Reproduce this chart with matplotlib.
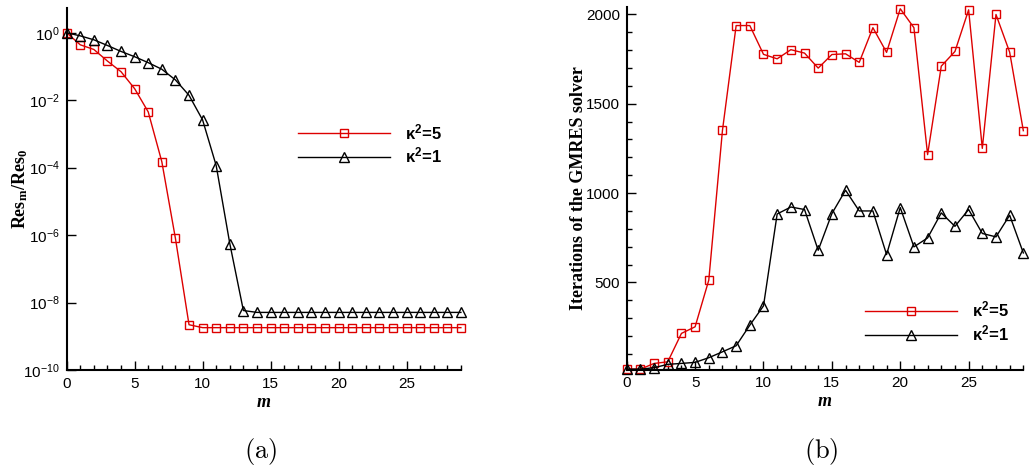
import numpy as np
import matplotlib
matplotlib.use("Agg")
import matplotlib.pyplot as plt
from matplotlib.ticker import FixedLocator, MultipleLocator, NullLocator, FuncFormatter

plt.rcParams["font.family"] = ["Liberation Sans", "DejaVu Sans"]
plt.rcParams["mathtext.default"] = "regular"

# data
m = np.arange(30)

res_k5 = [1.0, 0.44, 0.32, 0.145, 0.07, 0.022, 4.5e-3, 1.5e-4, 8e-7, 2.2e-9] + [1.8e-9] * 20
res_k1 = [1.0, 0.81, 0.62, 0.42, 0.28, 0.195, 0.13, 0.083, 0.04, 0.014,
          2.6e-3, 1.15e-4, 5.6e-7, 5.8e-9] + [5.1e-9] * 16

iter_k5 = [15, 15, 47, 56, 215, 252, 513, 1351, 1937, 1937,
           1776, 1751, 1802, 1783, 1699, 1775, 1779, 1731, 1925, 1787,
           2031, 1925, 1215, 1710, 1792, 2025, 1250, 1999, 1788, 1349]
iter_k1 = [15, 15, 23, 42, 47, 53, 79, 112, 146, 261,
           369, 883, 922, 908, 680, 885, 1016, 900, 900, 656,
           919, 699, 749, 889, 814, 908, 774, 755, 876, 665]

labels = ["κ$^2$=5", "κ$^2$=1"]
red = "#dd0000"

fig = plt.figure(figsize=(10.32, 4.70), dpi=100)
ax1 = fig.add_axes([0.0646, 0.2128, 0.382, 0.770])
ax2 = fig.add_axes([0.6073, 0.2138, 0.3843, 0.771])

style = dict(lw=1.0, mew=1.0, mfc="none", clip_on=False)


def dress(ax):
    for s in ["top", "right"]:
        ax.spines[s].set_visible(False)
    for s in ["left", "bottom"]:
        ax.spines[s].set_linewidth(1.5)
    ax.tick_params(which="major", direction="in", length=6.5, width=1.0,
                   labelsize=11, pad=5)
    ax.tick_params(which="minor", direction="in", length=3.6, width=1.0)
    ax.set_xlim(0, 29)
    ax.xaxis.set_major_locator(MultipleLocator(5))
    ax.xaxis.set_minor_locator(MultipleLocator(1))
    ax.set_xlabel("m", fontfamily="Liberation Serif", fontweight="bold",
                  fontstyle="italic", fontsize=13, labelpad=2)


legend_kw = dict(loc="center left", frameon=False, borderpad=0, borderaxespad=0,
                 handlelength=5.5, handletextpad=0.9, labelspacing=0.22,
                 prop={"weight": "bold", "size": 12})

# (a) residual history
ax1.plot(m, res_k5, color=red, marker="s", ms=6, label=labels[0], **style)
ax1.plot(m, res_k1, color="black", marker="^", ms=7, label=labels[1], **style)
ax1.set_yscale("log")
ax1.set_ylim(1e-10, 5.4)
ax1.yaxis.set_major_locator(FixedLocator(10.0 ** np.arange(-10, 1, 2)))
ax1.yaxis.set_minor_locator(NullLocator())
ax1.yaxis.set_major_formatter(FuncFormatter(lambda v, p: r"$10^{%d}$" % round(np.log10(v))))
dress(ax1)
ax1.set_ylabel("Res$_m$/Res$_0$", fontfamily="Liberation Serif", fontweight="bold", fontsize=13)
ax1.yaxis.set_label_coords(-0.093, 0.5)
ax1.legend(bbox_to_anchor=(0.587, 0.624), **legend_kw)

# (b) GMRES iterations
ax2.plot(m, iter_k5, color=red, marker="s", ms=6, label=labels[0], **style)
ax2.plot(m, iter_k1, color="black", marker="^", ms=7, label=labels[1], **style)
ax2.set_ylim(13, 2040)
ax2.yaxis.set_major_locator(FixedLocator([500, 1000, 1500, 2000]))
ax2.yaxis.set_minor_locator(MultipleLocator(100))
dress(ax2)
ax2.set_ylabel("Iterations of the GMRES solver", fontfamily="Liberation Serif",
               fontweight="bold", fontsize=13)
ax2.yaxis.set_label_coords(-0.100, 0.5)
ax2.legend(bbox_to_anchor=(0.601, 0.132), **legend_kw)

plt.rcParams["mathtext.fontset"] = "cm"
fig.text(0.2529, 0.039, r"$\mathrm{(a)}$", ha="center", va="center", fontsize=19)
fig.text(0.7955, 0.039, r"$\mathrm{(b)}$", ha="center", va="center", fontsize=19)

fig.savefig("out.png", dpi=100)
